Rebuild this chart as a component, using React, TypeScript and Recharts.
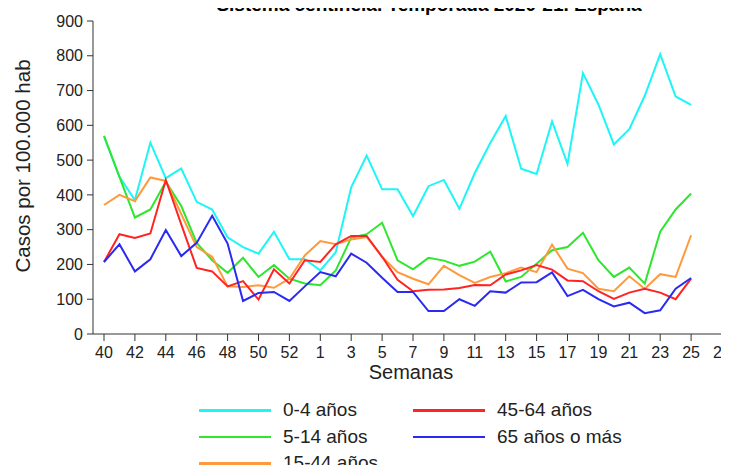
import React from 'react';
import { LineChart, Line, XAxis, YAxis, Legend } from 'recharts';

const weeks: string[] = [
  '40','41','42','43','44','45','46','47','48','49','50','51','52','53',
  '1','2','3','4','5','6','7','8','9','10','11','12','13','14','15','16','17','18','19','20','21','22','23','24','25','26','27',
];

const age04: number[] = [568,452,385,550,448,476,380,358,278,250,231,294,215,215,183,235,422,513,416,416,339,425,443,360,463,549,627,475,460,611,489,750,660,545,589,685,805,683,659];
const age514: number[] = [570,452,335,358,438,368,262,212,176,219,164,198,159,145,140,183,277,287,320,212,186,219,211,196,208,237,151,164,202,241,250,291,212,164,191,145,294,358,404];
const age1544: number[] = [371,400,382,450,440,345,250,222,137,135,140,133,159,226,267,258,272,279,222,178,159,143,196,169,147,164,175,191,178,257,188,175,130,123,166,130,172,164,284];
const age4564: number[] = [207,287,276,289,443,315,190,180,137,152,99,186,145,212,207,258,282,282,222,156,123,127,128,132,141,140,171,183,198,185,154,152,123,101,119,130,119,100,159];
const age65: number[] = [207,258,180,215,299,224,262,340,260,95,118,121,95,137,178,166,231,205,162,121,121,66,66,100,81,123,119,148,149,177,109,127,100,79,90,60,68,130,161];

const yTicks: number[] = [0,100,200,300,400,500,600,700,800,900];

const series = [
  { key: 'a04', name: '0-4 años', color: '#1EF5F5', values: age04 },
  { key: 'a514', name: '5-14 años', color: '#2EE62E', values: age514 },
  { key: 'a1544', name: '15-44 años', color: '#FF9A3C', values: age1544 },
  { key: 'a4564', name: '45-64 años', color: '#FF2424', values: age4564 },
  { key: 'a65', name: '65 años o más', color: '#2A2AF2', values: age65 },
];

const data = weeks.map((w, i) => {
  const row: Record<string, string | number | null> = { week: w };
  series.forEach((s) => {
    row[s.key] = i < s.values.length ? s.values[i] : null;
  });
  return row;
});

const FONT = '"Liberation Sans", Arial, sans-serif';

const renderLegend = (props: any) => {
  const payload = props.payload || [];
  return (
    <div style={{ position: 'relative', width: 729, height: 80, fontFamily: FONT }}>
      {payload.map((entry: any) => {
        const idx = series.findIndex((s) => s.key === entry.dataKey);
        const col = idx < 3 ? 0 : 1;
        const row = idx < 3 ? idx : idx - 3;
        const lineX = col === 0 ? 199 : 413;
        const y = 20 + row * 26.5;
        return (
          <div key={entry.dataKey} style={{ position: 'absolute', left: lineX, top: y - 12, height: 24, width: 300 }}>
            <div style={{ position: 'absolute', left: 0, top: 11, width: 72, height: 2.5, background: entry.color }} />
            <div style={{ position: 'absolute', left: 84, top: 0, lineHeight: '24px', fontSize: 19, color: '#222', whiteSpace: 'nowrap' }}>
              {entry.value}
            </div>
          </div>
        );
      })}
    </div>
  );
};

const YLabel = () => (
  <text
    x={22}
    y={166}
    transform="rotate(-90 22 166)"
    textAnchor="middle"
    dominantBaseline="central"
    fontSize={20.5}
    fontFamily={FONT}
    fill="#222"
  >
    Casos por 100.000 hab
  </text>
);

export default function App() {
  return (
    <div style={{ position: 'relative', width: 729, height: 473, margin: -8, overflow: 'hidden', background: '#fff' }}>
      <div
        style={{
          position: 'absolute',
          left: 129,
          top: -5,
          width: 600,
          textAlign: 'center',
          fontFamily: FONT,
          fontWeight: 'bold',
          fontSize: 19,
          lineHeight: '19px',
          color: '#000',
          whiteSpace: 'nowrap',
        }}
      >
        Sistema centinela. Temporada 2020-21. España
      </div>
      <LineChart width={729} height={473} data={data} margin={{ top: 21, right: 0, bottom: 100, left: 33 }}>
        <XAxis
          dataKey="week"
          interval={1}
          padding={{ left: 11, right: 7 }}
          tickSize={7}
          tickMargin={6}
          height={39}
          stroke="#333"
          tick={{ fill: '#222', fontSize: 16, fontFamily: FONT }}
          label={{ value: 'Semanas', position: 'insideBottom', offset: -6, fill: '#222', fontSize: 20, fontFamily: FONT }}
        />
        <YAxis
          domain={[0, 900]}
          ticks={yTicks}
          width={60}
          tickSize={6}
          tickMargin={4}
          stroke="#333"
          tick={{ fill: '#222', fontSize: 16, fontFamily: FONT }}
          label={<YLabel />}
        />
        {series.map((s) => (
          <Line
            key={s.key}
            dataKey={s.key}
            name={s.name}
            stroke={s.color}
            strokeWidth={2}
            dot={false}
            activeDot={false}
            type="linear"
            isAnimationActive={false}
          />
        ))}
        <Legend
          layout="horizontal"
          verticalAlign="middle"
          align="center"
          content={renderLegend}
          wrapperStyle={{ position: 'absolute', left: 0, top: 390, width: 729, height: 80 }}
        />
      </LineChart>
    </div>
  );
}
